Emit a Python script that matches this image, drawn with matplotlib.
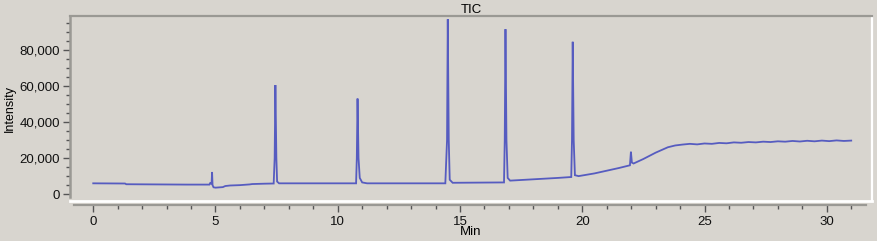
"""
TIC chromatogram: intensity vs retention time (min).
"""

import matplotlib
matplotlib.use("Agg")
import matplotlib.pyplot as plt
import matplotlib.ticker as ticker

# ---------------------------------------------------------------------------
# Data
# ---------------------------------------------------------------------------
TIME = [
    0.00, 1.30, 1.35, 3.80, 4.75, 4.80, 4.84, 4.86, 4.88, 4.92, 5.00, 5.30,
    5.40, 5.60, 6.00, 6.40, 6.50, 7.00, 7.38, 7.42, 7.45, 7.49, 7.52, 7.60,
    10.00, 10.75, 10.78, 10.81, 10.85, 10.90, 11.00, 11.20,
    14.40, 14.47, 14.50, 14.54, 14.58, 14.70,
    16.80, 16.83, 16.86, 16.90, 16.95, 17.05,
    19.00, 19.55, 19.58, 19.61, 19.65, 19.70, 19.85,
    20.50, 21.00, 21.50, 21.95, 21.99, 22.03, 22.10, 22.50, 23.00, 23.50,
    23.80, 24.10, 24.40, 24.70, 25.00, 25.30, 25.60, 25.90, 26.20, 26.50,
    26.80, 27.10, 27.40, 27.70, 28.00, 28.30, 28.60, 28.90, 29.20, 29.50,
    29.80, 30.10, 30.40, 30.70, 31.00,
]
INTENSITY = [
    6000, 5900, 5500, 5300, 5300, 6500, 5500, 12300, 5000, 3800, 3600, 3900,
    4500, 4800, 5000, 5400, 5600, 5800, 5900, 20000, 60500, 20000, 7000, 6000,
    6000, 6000, 20000, 53000, 20000, 9000, 6500, 6000,
    6000, 30000, 97000, 30000, 8000, 6300,
    6500, 30000, 91500, 30000, 9000, 7500,
    9000, 9500, 30000, 84500, 30000, 10500, 10000,
    11500, 13000, 14500, 16000, 23500, 17500, 17000, 19500, 23000, 26000,
    27000, 27500, 27900, 27600, 28100, 27900, 28400, 28200, 28700, 28500,
    28900, 28700, 29100, 28900, 29300, 29100, 29500, 29200, 29600, 29300,
    29700, 29400, 29800, 29500, 29700,
]

TITLE = "TIC"
XLABEL = "Min"
YLABEL = "Intensity"

BG = "#d8d5cf"
LINE = "#565cc0"
FRAME = "#9a9994"

plt.rcParams["font.family"] = ["Liberation Sans", "DejaVu Sans"]

fig = plt.figure(figsize=(8.78, 2.41), dpi=100, facecolor=BG)
ax = fig.add_axes([70 / 878, 40 / 241, 802 / 878, 185 / 241], facecolor=BG)

ax.plot(TIME, INTENSITY, color=LINE, lw=1.3, solid_joinstyle="miter")

ax.set_xlim(-0.95, 31.85)
ax.set_ylim(-3800, 98800)

# frame: dark top/left, white bottom/right
ax.spines["top"].set_color(FRAME)
ax.spines["top"].set_linewidth(1.6)
ax.spines["right"].set_color("white")
ax.spines["right"].set_linewidth(1.6)
ax.spines["left"].set_color(FRAME)
ax.spines["left"].set_linewidth(1.8)
ax.spines["left"].set_bounds(-1700, 98800)
ax.plot([0, 1], [0, 0], transform=ax.transAxes, color="white", lw=2,
        clip_on=False, zorder=5)

# x axis drawn just below the frame
ax.spines["bottom"].set_position(("outward", 3))
ax.spines["bottom"].set_color(FRAME)
ax.spines["bottom"].set_linewidth(1.6)
ax.spines["bottom"].set_bounds(-0.8, 31.6)

ax.xaxis.set_major_locator(ticker.MultipleLocator(5))
ax.xaxis.set_minor_locator(ticker.MultipleLocator(1))
ax.yaxis.set_major_locator(ticker.MultipleLocator(20000))
ax.yaxis.set_minor_locator(ticker.MultipleLocator(5000))
ax.yaxis.set_major_formatter(ticker.FuncFormatter(lambda v, p: f"{v:,.0f}"))

ax.tick_params(axis="both", which="both", direction="out", color="#555555",
               labelsize=9.5, labelcolor="#111111")
ax.tick_params(axis="x", which="major", length=5, width=1, pad=3)
ax.tick_params(axis="x", which="minor", length=3, width=1)
ax.tick_params(axis="y", which="major", length=5, width=1, pad=2)
ax.tick_params(axis="y", which="minor", length=3, width=1)

ax.set_title(TITLE, fontsize=9.5, pad=1.5)
ax.set_xlabel(XLABEL, fontsize=9.5, labelpad=-1.5)
ax.set_ylabel(YLABEL, fontsize=9, labelpad=3)

fig.savefig("out.png", dpi=100, facecolor=BG)
